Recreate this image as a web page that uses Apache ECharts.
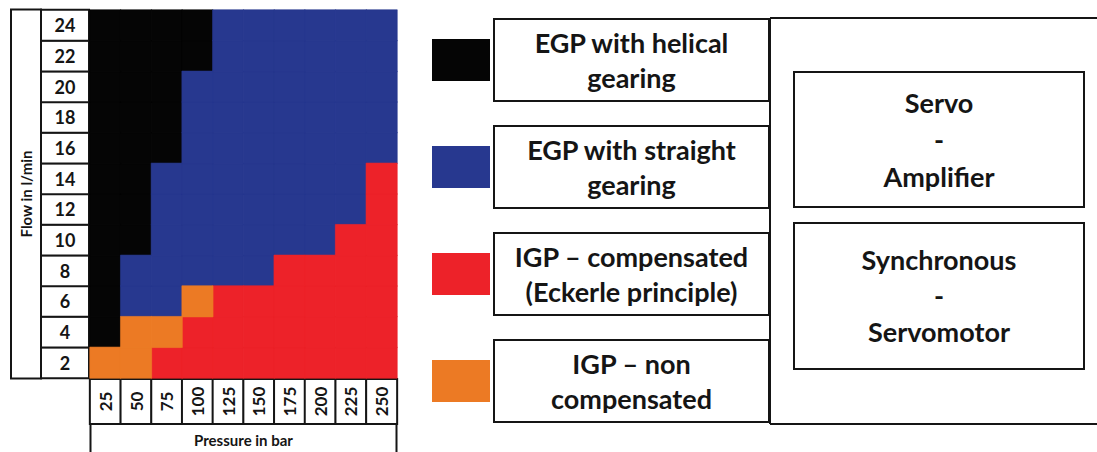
<!DOCTYPE html>
<html>
<head>
<meta charset="utf-8">
<script src="https://cdn.jsdelivr.net/npm/echarts@6/dist/echarts.min.js"></script>
<style>
  html, body { margin: 0; padding: 0; background: #fff; }
  #pump_map { width: 1097px; height: 452px; }
</style>
</head>
<body>
<div id="pump_map"></div>
<script>
// pressure columns (bar) and flow rows (l/min)
var pressures = ['25', '50', '75', '100', '125', '150', '175', '200', '225', '250'];
var flows = ['2', '4', '6', '8', '10', '12', '14', '16', '18', '20', '22', '24'];

var pumpNames = ['EGP with helical gearing', 'EGP with straight gearing', 'IGP – compensated (Eckerle principle)', 'IGP – non compensated'];
var pumpLines = [['EGP with helical', 'gearing'], ['EGP with straight', 'gearing'], ['IGP – compensated', '(Eckerle principle)'], ['IGP – non', 'compensated']];
var pumpColors = ['#050505', '#27388f', '#ed2229', '#ec7a24'];

// pump type per cell, one row per flow (2 -> 24), one entry per pressure
// 0 helical EGP, 1 straight EGP, 2 compensated IGP, 3 non compensated IGP
var zones = [
  [3, 3, 2, 2, 2, 2, 2, 2, 2, 2], // 2
  [0, 3, 3, 2, 2, 2, 2, 2, 2, 2], // 4
  [0, 1, 1, 3, 2, 2, 2, 2, 2, 2], // 6
  [0, 1, 1, 1, 1, 1, 2, 2, 2, 2], // 8
  [0, 0, 1, 1, 1, 1, 1, 1, 2, 2], // 10
  [0, 0, 1, 1, 1, 1, 1, 1, 1, 2], // 12
  [0, 0, 1, 1, 1, 1, 1, 1, 1, 2], // 14
  [0, 0, 0, 1, 1, 1, 1, 1, 1, 1], // 16
  [0, 0, 0, 1, 1, 1, 1, 1, 1, 1], // 18
  [0, 0, 0, 1, 1, 1, 1, 1, 1, 1], // 20
  [0, 0, 0, 0, 1, 1, 1, 1, 1, 1], // 22
  [0, 0, 0, 0, 1, 1, 1, 1, 1, 1]  // 24
];

var drive1 = ['Servo', '-', 'Amplifier'];
var drive2 = ['Synchronous', '-', 'Servomotor'];

var FONT = 'Lato';
var INK = '#151515';

var dom = document.getElementById('pump_map');
var myChart = echarts.init(dom, null, { renderer: 'svg' });

var series = pumpNames.map(function (name, k) {
  var cells = [];
  zones.forEach(function (row, y) {
    row.forEach(function (code, x) {
      if (code === k) cells.push([x, y, 1]);
    });
  });
  return {
    name: name,
    type: 'heatmap',
    data: cells,
    itemStyle: { color: pumpColors[k], borderColor: pumpColors[k], borderWidth: 0.6 },
    emphasis: { disabled: true }
  };
});

var boxText = {
  fontFamily: FONT,
  fontWeight: 'bold',
  color: INK
};

function boxed(w, h, size) {
  return Object.assign({
    width: w, height: h, lineHeight: h, align: 'center', fontSize: size,
    backgroundColor: '#fff', borderColor: INK, borderWidth: 2
  }, boxText);
}

var option = {
  animation: false,
  grid: { left: 90, top: 10, width: 307, height: 368, outerBoundsMode: 'none', containLabel: false },
  xAxis: {
    type: 'category',
    data: pressures,
    axisLine: { show: false },
    axisTick: { show: false },
    splitLine: { show: false },
    axisLabel: {
      interval: 0,
      rotate: 90,
      margin: 2,
      formatter: function (v) { return '{b|' + v + '}'; },
      rich: { b: boxed(43, 29, 17) }
    },
    name: '{n|Pressure in bar}',
    nameLocation: 'middle',
    nameGap: 47,
    nameMoveOverlap: false,
    nameTextStyle: { rich: { n: boxed(304, 30, 15) } }
  },
  yAxis: {
    type: 'category',
    data: flows,
    axisLine: { show: false },
    axisTick: { show: false },
    splitLine: { show: false },
    axisLabel: {
      interval: 0,
      margin: 2,
      formatter: function (v) { return '{b|' + v + '}'; },
      rich: { b: boxed(46, 29, 18) }
    },
    name: '{n|Flow in l/min}',
    nameLocation: 'middle',
    nameRotate: 90,
    nameGap: 50,
    nameMoveOverlap: false,
    nameTextStyle: { rich: { n: boxed(367, 28, 15) } }
  },
  legend: {
    orient: 'vertical',
    left: 432,
    top: 18,
    padding: 0,
    itemWidth: 56,
    itemHeight: 40,
    itemGap: 23,
    icon: 'rect',
    selectedMode: false,
    data: pumpNames,
    formatter: function (name) {
      var lines = pumpLines[pumpNames.indexOf(name)];
      return lines.map(function (l) { return '{c|' + l + '}'; }).join('\n');
    },
    textStyle: {
      width: 275, height: 74,
      padding: [6, 0, 2, 0],
      borderColor: INK, borderWidth: 2,
      rich: {
        c: Object.assign({ align: 'center', fontSize: 27, lineHeight: 35 }, boxText)
      }
    }
  },
  graphic: [
    { type: 'line', shape: { x1: 770, y1: 18, x2: 1097, y2: 18 }, style: { stroke: INK, lineWidth: 2 } },
    { type: 'line', shape: { x1: 770, y1: 424, x2: 1097, y2: 424 }, style: { stroke: INK, lineWidth: 2 } },
    { type: 'line', shape: { x1: 770, y1: 18, x2: 770, y2: 424 }, style: { stroke: INK, lineWidth: 2 } },
    { type: 'rect', shape: { x: 794, y: 72, width: 290, height: 135 }, style: { fill: '#fff', stroke: INK, lineWidth: 2 } },
    { type: 'rect', shape: { x: 794, y: 223, width: 290, height: 146 }, style: { fill: '#fff', stroke: INK, lineWidth: 2 } },
    {
      type: 'text', x: 939, y: 84,
      style: { text: drive1.join('\n'), align: 'center', verticalAlign: 'top', fontSize: 27, lineHeight: 37, fill: INK, fontFamily: FONT, fontWeight: 'bold' }
    },
    {
      type: 'text', x: 939, y: 241,
      style: { text: drive2.join('\n'), align: 'center', verticalAlign: 'top', fontSize: 27, lineHeight: 36, fill: INK, fontFamily: FONT, fontWeight: 'bold' }
    }
  ],
  series: series
};

if (option && typeof option === 'object') {
  myChart.setOption(option);
}

window.addEventListener('resize', myChart.resize);
</script>
</body>
</html>
